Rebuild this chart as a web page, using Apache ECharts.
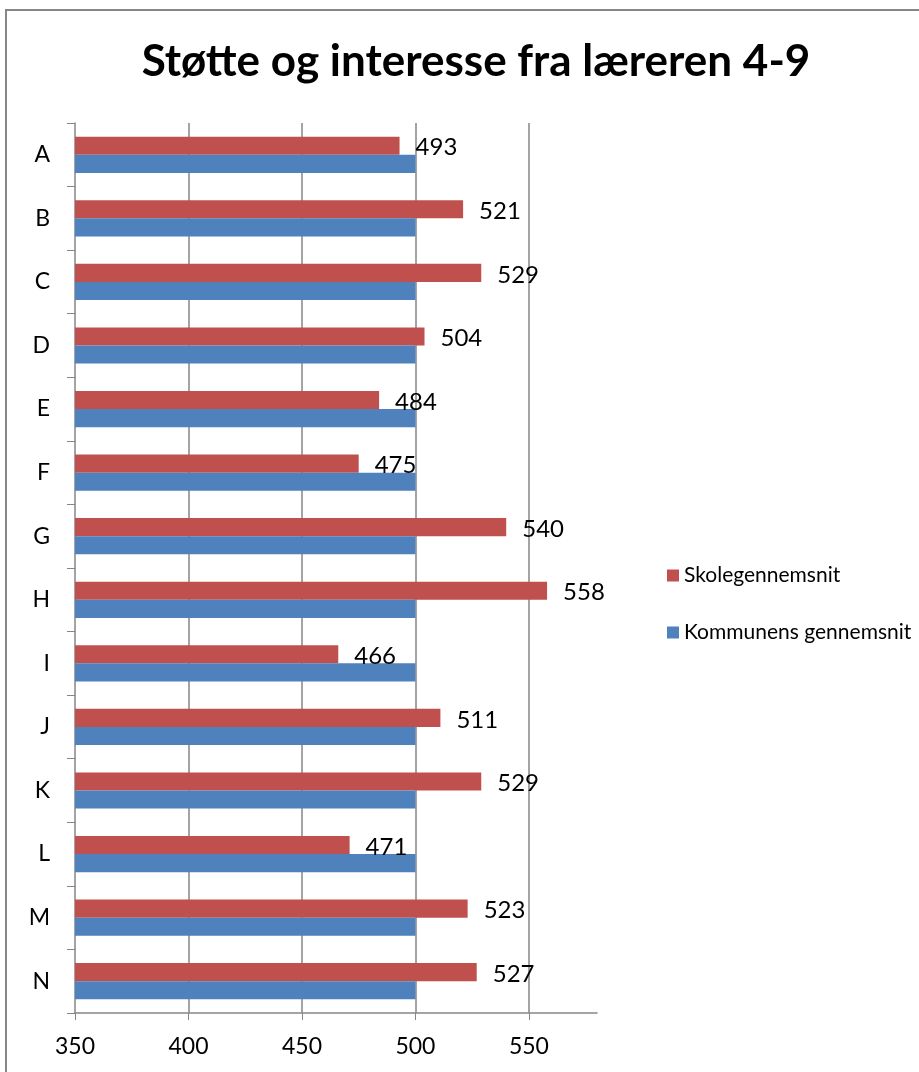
<!DOCTYPE html>
<html><head><meta charset="utf-8">
<script src="https://cdn.jsdelivr.net/npm/echarts@6/dist/echarts.min.js"></script>
<style>html,body{margin:0;padding:0;background:#fff}#c{width:919px;height:1072px}</style>
</head><body><div id="c"></div>
<script>
const categories = ['A','B','C','D','E','F','G','H','I','J','K','L','M','N'];
const skole = [493,521,529,504,484,475,540,558,466,511,529,471,523,527];
const kommune = [500,500,500,500,500,500,500,500,500,500,500,500,500,500];
const seriesNames = ['Skolegennemsnit','Kommunens gennemsnit'];
const titleText = 'Støtte og interesse fra læreren 4-9';

const font = 'Lato';
const chart = echarts.init(document.getElementById('c'));
chart.setOption({
  animation:false,
  backgroundColor:'#fff',
  textStyle:{fontFamily:font},
  title:{text:titleText,left:471,top:35,textAlign:'center',
    textStyle:{fontFamily:font,fontWeight:'bold',fontSize:44,color:'#000'}},
  graphic:[{type:'rect',shape:{x:6,y:10,width:1000,height:1200},
    style:{fill:'none',stroke:'#868686',lineWidth:2},silent:true}],
  legend:{orient:'vertical',left:662,top:560,itemWidth:12,itemHeight:12,itemGap:36,
    icon:'rect',textStyle:{fontFamily:font,fontSize:21,color:'#000'},
    data:seriesNames},
  grid:{left:75,top:123,right:322,bottom:59,containLabel:false},
  xAxis:{type:'value',min:350,max:580,interval:50,
    axisLine:{show:true,lineStyle:{color:'#868686',width:1.5}},
    axisTick:{show:true,length:7,lineStyle:{color:'#868686'}},
    axisLabel:{showMaxLabel:false,fontFamily:font,fontSize:23,color:'#000',margin:22},
    splitLine:{show:true,showMinLine:false,showMaxLine:false,lineStyle:{color:'#868686',width:1.5}}},
  yAxis:{type:'category',data:categories,inverse:true,
    axisLine:{show:true,lineStyle:{color:'#868686',width:1.5}},
    axisTick:{show:true,length:8,lineStyle:{color:'#868686'}},
    axisLabel:{fontFamily:font,fontSize:23,color:'#000',margin:25}},
  series:[
    {name:seriesNames[0],type:'bar',data:skole,barGap:'0%',barCategoryGap:'43%',
      itemStyle:{color:'#C0504D'},
      label:{show:true,position:'right',distance:16,offset:[0,2],fontFamily:font,fontSize:24,color:'#000'}},
    {name:seriesNames[1],type:'bar',data:kommune,barGap:'0%',barCategoryGap:'43%',
      itemStyle:{color:'#4F81BD'}}
  ]
});
</script></body></html>
